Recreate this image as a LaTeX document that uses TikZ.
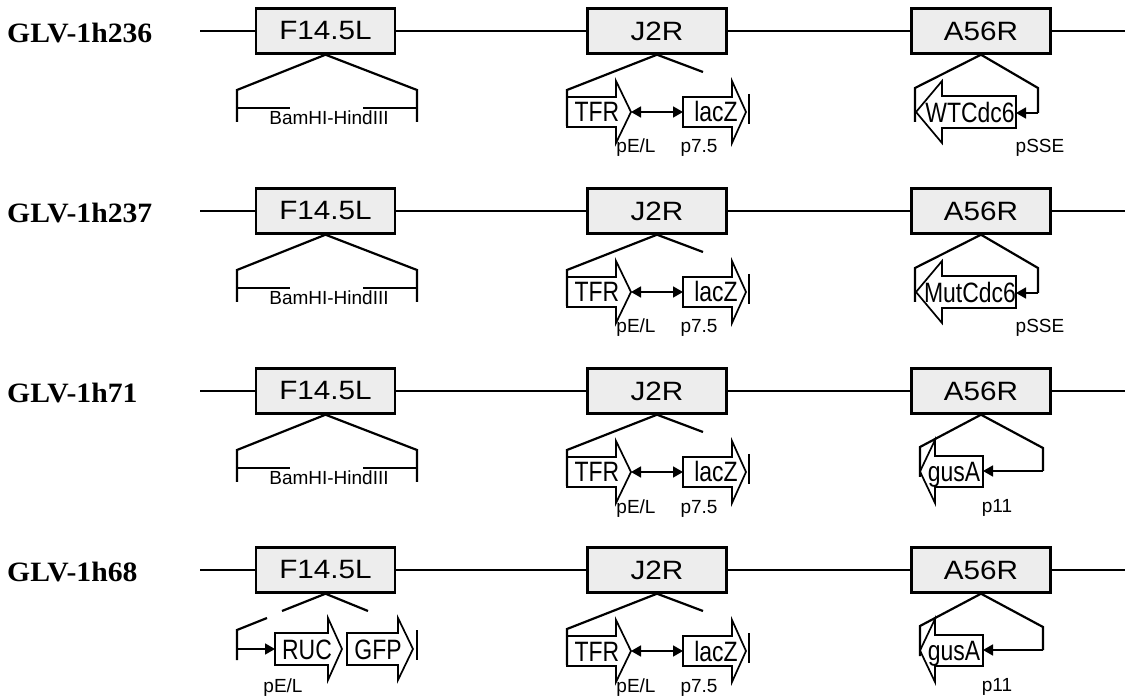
\documentclass[tikz,border=0pt]{standalone}
\usepackage{fontspec}
\setmainfont{Liberation Sans}
\newfontfamily\rowfont[FakeStretch=1.06]{Liberation Serif}
\newfontfamily\boxfont[FakeStretch=1.12]{Liberation Sans}
\newfontfamily\genefont[FakeStretch=0.82]{Liberation Sans}
\usetikzlibrary{arrows.meta}
\tikzset{
  backbone/.style={line width=2pt},
  genebox/.style={draw, line width=2.4pt, fill=black!7, minimum width=139pt, minimum height=45pt, inner sep=0pt, font=\boxfont\fontsize{26.5}{28}\selectfont},
  insline/.style={line width=2.2pt},
  genearrow/.style={draw, fill=white, line width=1.7pt, line join=miter},
  glabel/.style={font=\genefont\fontsize{28}{30}\selectfont, inner sep=0pt, anchor=base},
  plabel/.style={font=\fontsize{19}{21}\selectfont, inner sep=0pt, anchor=base},
  rowlabel/.style={font=\rowfont\bfseries\fontsize{28}{30}\selectfont, anchor=west, inner sep=0pt},
  promarrow/.style={line width=1.7pt, -{Triangle[length=10pt,width=11pt]}},
  dblarrow/.style={line width=1.7pt, {Triangle[length=10pt,width=11pt]}-{Triangle[length=10pt,width=11pt]}},
  endbar/.style={line width=2.2pt}
}
% gene arrow polygon: #1 tail x, #2 head base x, #3 tip x, #4 centre y, #5 half shaft, #6 half head
\newcommand\genearr[6]{%
  \draw[genearrow] (#1,#4-#5) -- (#2,#4-#5) -- (#2,#4-#6) -- (#3,#4) -- (#2,#4+#6) -- (#2,#4+#5) -- (#1,#4+#5) -- cycle;}
% backbone row
\newcommand\backbonerow[3]{%
  \begin{scope}[shift={(0,#2)}]
    \node[rowlabel] (lab#1) at (7,33) {#3};
    \node[genebox] (f#1) at (325.5,31) {F14.5L};
    \node[genebox] (j#1) at (657,31) {J2R};
    \node[genebox] (a#1) at (981,31) {A56R};
    \coordinate (ls#1) at (200,31);
    \coordinate (le#1) at (1125,31);
    \draw[backbone] (ls#1) -- (f#1.west);
    \draw[backbone] (f#1.east) -- (j#1.west);
    \draw[backbone] (j#1.east) -- (a#1.west);
    \draw[backbone] (a#1.east) -- (le#1);
  \end{scope}}
% F14.5L BamHI-HindIII insert
\newcommand\finsert[2]{%
  \begin{scope}[shift={(0,#2)}]
    \coordinate (fl#1) at (237,90); \coordinate (flb#1) at (237,122);
    \coordinate (fr#1) at (417,90); \coordinate (frb#1) at (417,122);
    \coordinate (fh1#1) at (237,108); \coordinate (fh2#1) at (290,108);
    \coordinate (fh3#1) at (363,108); \coordinate (fh4#1) at (417,108);
    \draw[insline] (flb#1) -- (fl#1) -- (f#1.south) -- (fr#1) -- (frb#1);
    \draw[insline] (fh1#1) -- (fh2#1);
    \draw[insline] (fh3#1) -- (fh4#1);
    \node[plabel] (bh#1) at (329,125) {BamHI-HindIII};
  \end{scope}}
% J2R insert
\newcommand\jinsert[2]{%
  \begin{scope}[shift={(0,#2)}]
    \genearr{567}{616}{631}{112}{15}{31}
    \genearr{683}{732}{746}{112}{15}{31}
    \coordinate (jl#1) at (567,90); \coordinate (jlb#1) at (567,126);
    \coordinate (jr#1) at (703,72);
    \draw[insline] (jr#1) -- (j#1.south) -- (jl#1) -- (jlb#1);
    \node[glabel] (tfr#1) at (597,122) {TFR};
    \node[glabel] (lacz#1) at (716,122) {lacZ};
    \coordinate (tfrtip#1) at (631,112); \coordinate (laczl#1) at (683,112);
    \draw[dblarrow] (tfrtip#1) -- (laczl#1);
    \coordinate (bt#1) at (749,94); \coordinate (bb#1) at (749,124);
    \draw[endbar] (bt#1) -- (bb#1);
    \node[plabel] (pel#1) at (636,153) {pE/L};
    \node[plabel] (p75#1) at (699,153) {p7.5};
  \end{scope}}
% A56R insert with Cdc6
\newcommand\acdcinsert[3]{%
  \begin{scope}[shift={(0,#2)}]
    \genearr{1016}{942}{916}{112}{16}{31}
    \coordinate (al#1) at (915,88); \coordinate (alb#1) at (915,122);
    \coordinate (ar#1) at (1038,88); \coordinate (arb#1) at (1038,113);
    \coordinate (atip#1) at (1016,113);
    \draw[insline] (alb#1) -- (al#1) -- (a#1.south) -- (ar#1) -- (arb#1);
    \node[glabel] (cdc#1) at (970,122.5) {#3};
    \draw[promarrow] (arb#1) -- (atip#1);
    \node[plabel] (pss#1) at (1040,153) {pSSE};
  \end{scope}}
% A56R insert with gusA
\newcommand\agusinsert[2]{%
  \begin{scope}[shift={(0,#2)}]
    \genearr{983}{935}{920}{111.5}{15.5}{31.5}
    \coordinate (al#1) at (920,87); \coordinate (alb#1) at (920,117);
    \coordinate (ar#1) at (1043,88); \coordinate (arb#1) at (1043,111);
    \coordinate (atip#1) at (983,111);
    \draw[insline] (alb#1) -- (al#1) -- (a#1.south) -- (ar#1) -- (arb#1);
    \node[glabel] (gus#1) at (954,121.5) {gusA};
    \draw[promarrow] (arb#1) -- (atip#1);
    \node[plabel] (p11#1) at (997,152) {p11};
  \end{scope}}
\begin{document}
\begin{tikzpicture}[x=1pt,y=-1pt]
  \useasboundingbox (0,0) rectangle (1125,700);
  \backbonerow{1}{0}{GLV-1h236}
  \backbonerow{2}{180}{GLV-1h237}
  \backbonerow{3}{360}{GLV-1h71}
  \backbonerow{4}{539}{GLV-1h68}
  \finsert{1}{0}
  \finsert{2}{180}
  \finsert{3}{360}
  \jinsert{1}{0}
  \jinsert{2}{180}
  \jinsert{3}{360}
  \jinsert{4}{539}
  \acdcinsert{1}{0}{WTCdc6}
  \acdcinsert{2}{180}{MutCdc6}
  \agusinsert{3}{360}
  \agusinsert{4}{539}
  % row 4 F14.5L insert
  \begin{scope}[shift={(0,539)}]
    \genearr{275}{328}{342}{110}{16}{31}
    \genearr{347}{398}{413}{110}{16}{31}
    \coordinate (fa4) at (282,72); \coordinate (fb4) at (368,72);
    \coordinate (fc4) at (267,79); \coordinate (fd4) at (237,91);
    \coordinate (fe4) at (237,121); \coordinate (ff4) at (237,110);
    \coordinate (rucl4) at (275,110);
    \draw[insline] (fa4) -- (f4.south) -- (fb4);
    \draw[insline] (fc4) -- (fd4) -- (fe4);
    \draw[promarrow] (ff4) -- (rucl4);
    \node[glabel] (ruc4) at (307,120) {RUC};
    \node[glabel] (gfp4) at (378,120) {GFP};
    \coordinate (gbt4) at (417,91); \coordinate (gbb4) at (417,121);
    \draw[endbar] (gbt4) -- (gbb4);
    \node[plabel] (pelf4) at (283,153) {pE/L};
  \end{scope}
\end{tikzpicture}
\end{document}
